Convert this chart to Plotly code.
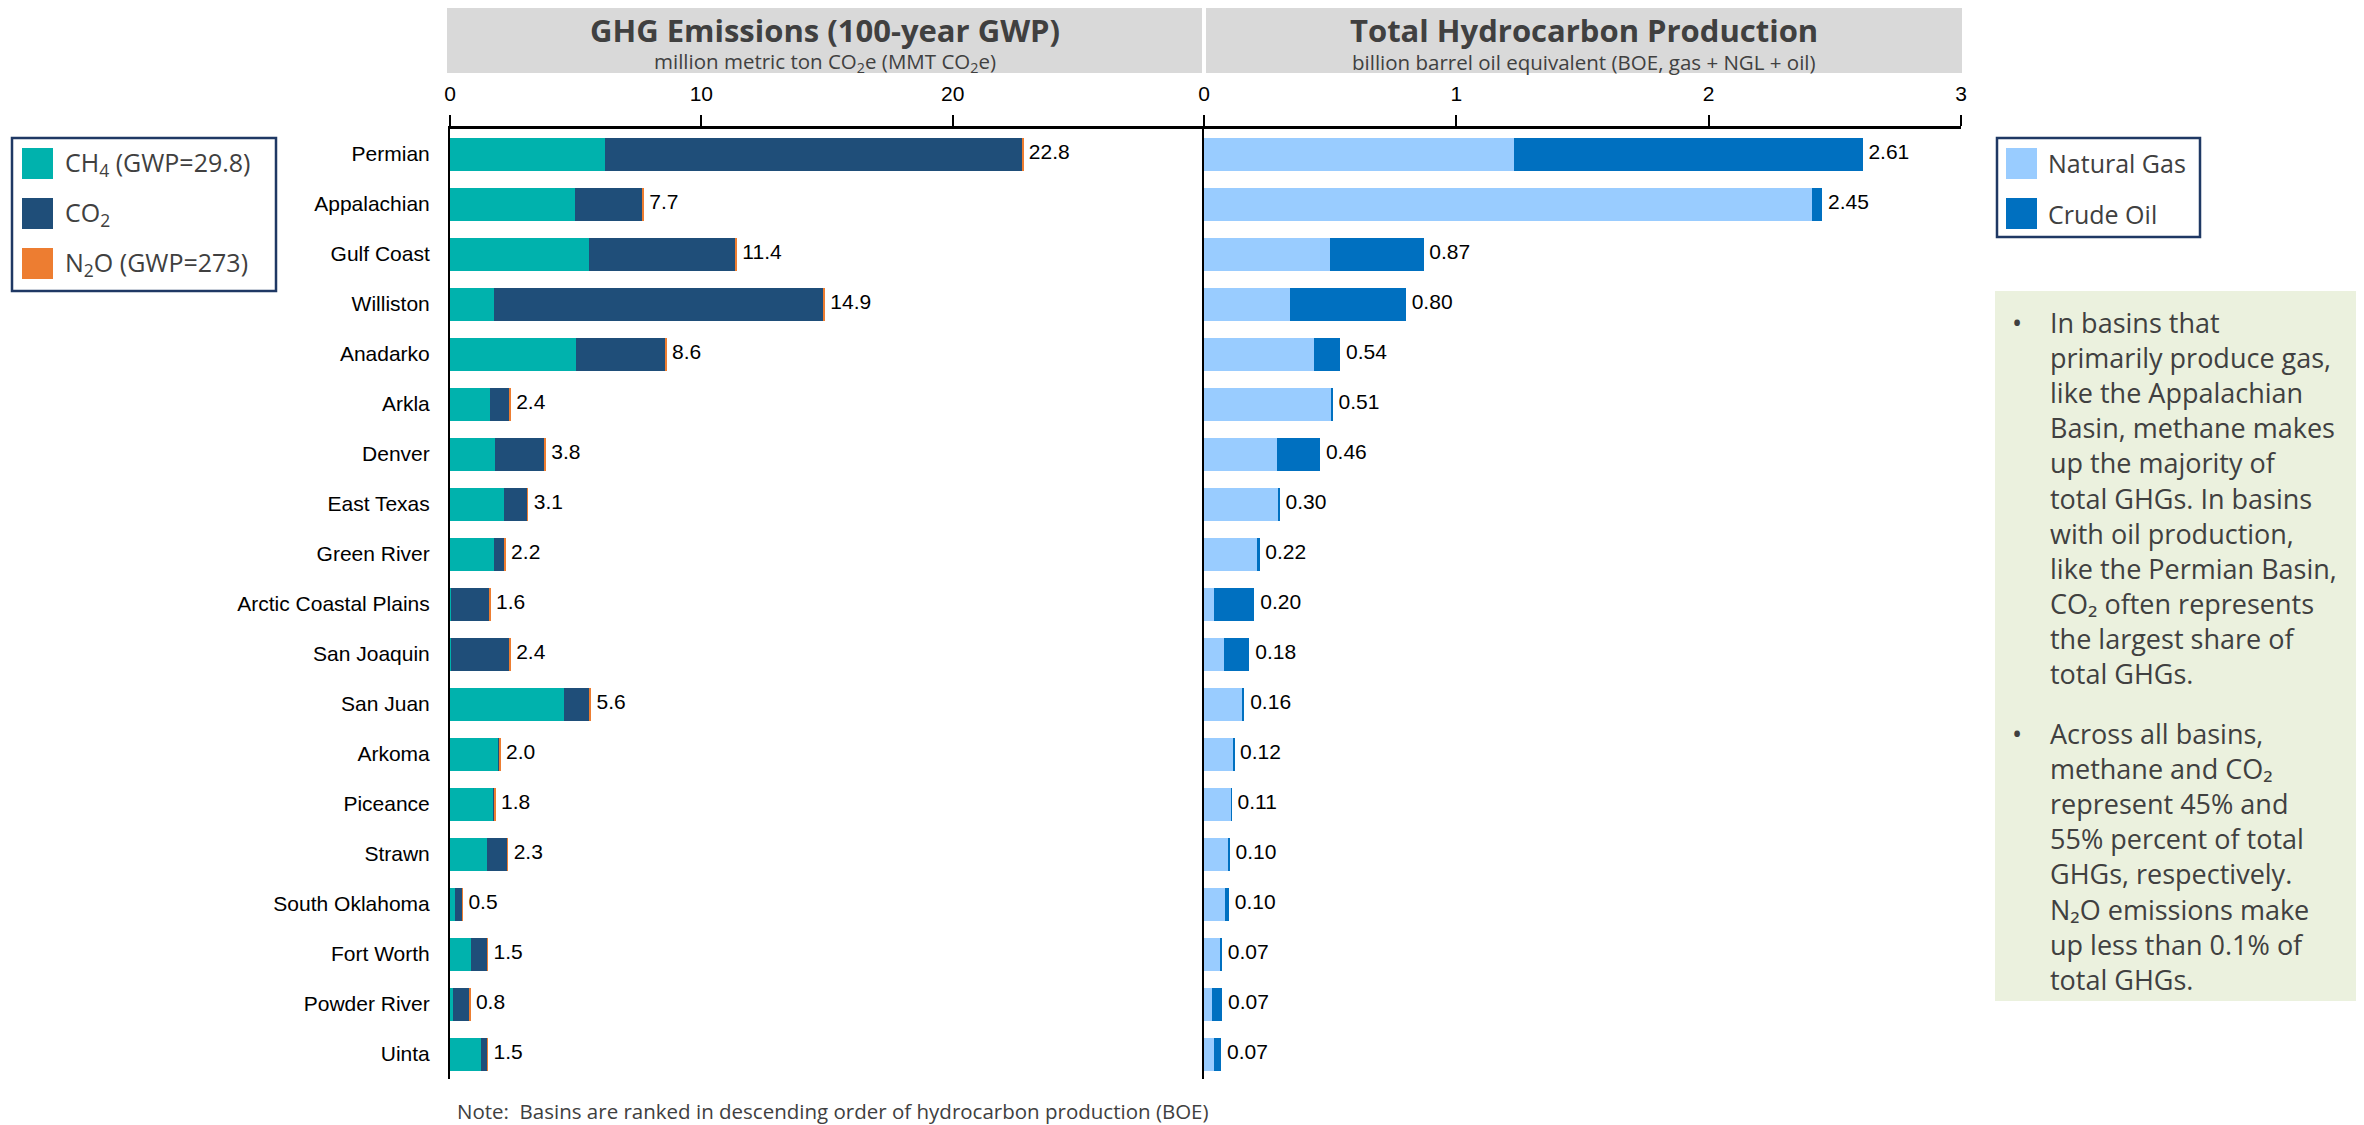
import plotly.graph_objects as go

basins = ["Permian", "Appalachian", "Gulf Coast", "Williston", "Anadarko", "Arkla", "Denver",
          "East Texas", "Green River", "Arctic Coastal Plains", "San Joaquin", "San Juan",
          "Arkoma", "Piceance", "Strawn", "South Oklahoma", "Fort Worth", "Powder River", "Uinta"]

# GHG emissions, MMT CO2e
ch4 = [6.17, 4.96, 5.53, 1.74, 5.01, 1.58, 1.78, 2.14, 1.74, 0.02, 0.02, 4.52, 1.90, 1.70, 1.46, 0.18, 0.82, 0.10, 1.24]
co2 = [16.59, 2.70, 5.83, 13.12, 3.55, 0.79, 1.99, 0.93, 0.43, 1.55, 2.35, 1.05, 0.08, 0.08, 0.81, 0.30, 0.66, 0.68, 0.24]
n2o = [0.04, 0.04, 0.04, 0.04, 0.04, 0.03, 0.03, 0.03, 0.03, 0.03, 0.03, 0.03, 0.02, 0.02, 0.03, 0.02, 0.02, 0.02, 0.02]

# Hydrocarbon production, billion BOE
gas = [1.23, 2.41, 0.50, 0.34, 0.435, 0.505, 0.29, 0.295, 0.21, 0.04, 0.078, 0.151, 0.117, 0.107, 0.098, 0.083, 0.067, 0.032, 0.040]
oil = [1.38, 0.04, 0.37, 0.46, 0.105, 0.005, 0.17, 0.005, 0.01, 0.16, 0.102, 0.009, 0.003, 0.003, 0.004, 0.016, 0.004, 0.040, 0.028]

ghg_ticks = [0, 10, 20]
prod_ticks = [0, 1, 2, 3]

ghg_names = ["CH<sub>4</sub> (GWP=29.8)", "CO<sub>2</sub>", "N<sub>2</sub>O (GWP=273)"]
ghg_colors = ["#00b2ad", "#1f4e79", "#ed7d31"]
prod_names = ["Natural Gas", "Crude Oil"]
prod_colors = ["#99ccff", "#0070c0"]

ghg_total = [a + b + c for a, b, c in zip(ch4, co2, n2o)]
prod_total = [a + b for a, b in zip(gas, oil)]

# page offset of the plot div (body margin) is compensated
OFF = 8
W, H = 2364 - OFF, 1125 - OFF
ML, MR, MT, MB = 450 - OFF, 403, 129 - OFF, 46
PW, PH = W - ML - MR, H - MT - MB


def px(x):
    return (x - OFF - ML) / PW


def py(y):
    return (H - MB - (y - OFF)) / PH


AX_FONT = dict(family="Liberation Sans, Arial", size=21, color="black")
TXT = "#404040"
UI = "Open Sans, Noto Sans"
NB = "\u00a0"

fig = go.Figure()

for vals, name, col in zip([ch4, co2, n2o], ghg_names, ghg_colors):
    fig.add_trace(go.Bar(y=basins, x=vals, orientation="h", name=name, showlegend=False,
                         marker=dict(color=col, line=dict(width=0)), xaxis="x", yaxis="y"))
fig.add_trace(go.Scatter(y=basins, x=ghg_total, mode="text", text=[NB + f"{v:.1f}" for v in ghg_total],
                         textposition="middle right", textfont=AX_FONT, showlegend=False,
                         cliponaxis=False, xaxis="x", yaxis="y", hoverinfo="skip"))

for vals, name, col in zip([gas, oil], prod_names, prod_colors):
    fig.add_trace(go.Bar(y=basins, x=vals, orientation="h", name=name, showlegend=False,
                         marker=dict(color=col, line=dict(width=0)), xaxis="x2", yaxis="y2"))
fig.add_trace(go.Scatter(y=basins, x=prod_total, mode="text", text=[NB + f"{v:.2f}" for v in prod_total],
                         textposition="middle right", textfont=AX_FONT, showlegend=False,
                         cliponaxis=False, xaxis="x2", yaxis="y2", hoverinfo="skip"))

split = px(1204)
xa = dict(side="top", showgrid=False, zeroline=False, showline=True, linecolor="black", linewidth=3,
          ticks="outside", ticklen=11, tickwidth=1.5, tickcolor="black", tickfont=AX_FONT,
          ticklabelstandoff=6)
yrange = [len(basins) - 0.5, -0.5]

fig.update_layout(
    width=W, height=H,
    margin=dict(l=ML, r=MR, t=MT, b=MB),
    paper_bgcolor="white", plot_bgcolor="white",
    barmode="stack", bargap=0.34, showlegend=False,
    xaxis=dict(domain=[0, split], range=[0, 30], tickvals=ghg_ticks, anchor="y", **xa),
    xaxis2=dict(domain=[split, 1], range=[0, 3], tickvals=prod_ticks, anchor="y2", **xa),
    yaxis=dict(domain=[0, 1], range=yrange, showgrid=False, showline=True, linecolor="black",
               linewidth=2, ticks="", tickfont=AX_FONT, ticklabelstandoff=14, anchor="x"),
    yaxis2=dict(domain=[0, 1], matches="y", range=yrange, showgrid=False, showline=True,
                linecolor="black", linewidth=2, ticks="", showticklabels=False, anchor="x2"),
)

shapes = [
    dict(type="rect", x0=px(447), x1=px(1202), y0=py(73), y1=py(6), fillcolor="#d9d9d9",
         line=dict(width=0), layer="below"),
    dict(type="rect", x0=px(1206), x1=px(1962), y0=py(73), y1=py(6), fillcolor="#d9d9d9",
         line=dict(width=0), layer="below"),
    dict(type="rect", x0=px(1995), x1=px(2364), y0=py(1001), y1=py(291), fillcolor="#ebf1de",
         line=dict(width=0), layer="below"),
    # legend frames
    dict(type="rect", x0=px(12), x1=px(276), y0=py(291), y1=py(138), fillcolor="white",
         line=dict(width=2.5, color="#1f3864")),
    dict(type="rect", x0=px(1997), x1=px(2200), y0=py(237), y1=py(138), fillcolor="white",
         line=dict(width=2.5, color="#1f3864")),
]
ann = []
SQ = 31
LF = dict(family=UI, size=25, color=TXT)
for i, (name, col) in enumerate(zip(ghg_names, ghg_colors)):
    cy = 163.5 + i * 50
    shapes.append(dict(type="rect", x0=px(22), x1=px(22 + SQ), y0=py(cy + SQ / 2), y1=py(cy - SQ / 2),
                       fillcolor=col, line=dict(width=0)))
    ann.append(dict(text=name, x=px(63), y=py(cy), xanchor="left", font=LF))
for i, (name, col) in enumerate(zip(prod_names, prod_colors)):
    cy = 163.5 + i * 50
    shapes.append(dict(type="rect", x0=px(2006), x1=px(2006 + SQ), y0=py(cy + SQ / 2), y1=py(cy - SQ / 2),
                       fillcolor=col, line=dict(width=0)))
    ann.append(dict(text=name, x=px(2046), y=py(cy), xanchor="left", font=LF))

for s in shapes:
    s["xref"] = "paper"
    s["yref"] = "paper"
fig.update_layout(shapes=shapes)

bullet1 = ("In basins that<br>primarily produce gas,<br>like the Appalachian<br>Basin, methane makes<br>"
           "up the majority of<br>total GHGs. In basins<br>with oil production,<br>like the Permian Basin,<br>"
           "CO\u2082 often represents<br>the largest share of<br>total GHGs.")
bullet2 = ("Across all basins,<br>methane and CO\u2082<br>represent 45% and<br>55% percent of total<br>"
           "GHGs, respectively.<br>N\u2082O emissions make<br>up less than 0.1% of<br>total GHGs.")

BF = dict(family=UI, size=27, color=TXT)
ann += [
    dict(text="<b>GHG Emissions (100-year GWP)</b>", x=px(824.5), y=py(30),
         font=dict(family=UI, size=31, color=TXT)),
    dict(text="million metric ton CO<sub>2</sub>e (MMT CO<sub>2</sub>e)", x=px(824.5), y=py(62),
         font=dict(family=UI, size=20.5, color=TXT)),
    dict(text="<b>Total Hydrocarbon Production</b>", x=px(1584), y=py(30),
         font=dict(family=UI, size=31, color=TXT)),
    dict(text="billion barrel oil equivalent (BOE, gas + NGL + oil)", x=px(1584), y=py(62),
         font=dict(family=UI, size=20.5, color=TXT)),
    dict(text="•", x=px(2017), y=py(302), yanchor="top", font=BF),
    dict(text=bullet1, x=px(2048), y=py(302), xanchor="left", yanchor="top", align="left", font=BF),
    dict(text="•", x=px(2017), y=py(713), yanchor="top", font=BF),
    dict(text=bullet2, x=px(2048), y=py(713), xanchor="left", yanchor="top", align="left", font=BF),
    dict(text="Note:" + NB + " Basins are ranked in descending order of hydrocarbon production (BOE)",
         x=px(455), y=py(1111), xanchor="left", font=dict(family=UI, size=20.5, color=TXT)),
]
for a in ann:
    a.setdefault("xanchor", "center")
    a.setdefault("yanchor", "middle")
    fig.add_annotation(xref="paper", yref="paper", showarrow=False, **a)

fig.write_html("out.html")
